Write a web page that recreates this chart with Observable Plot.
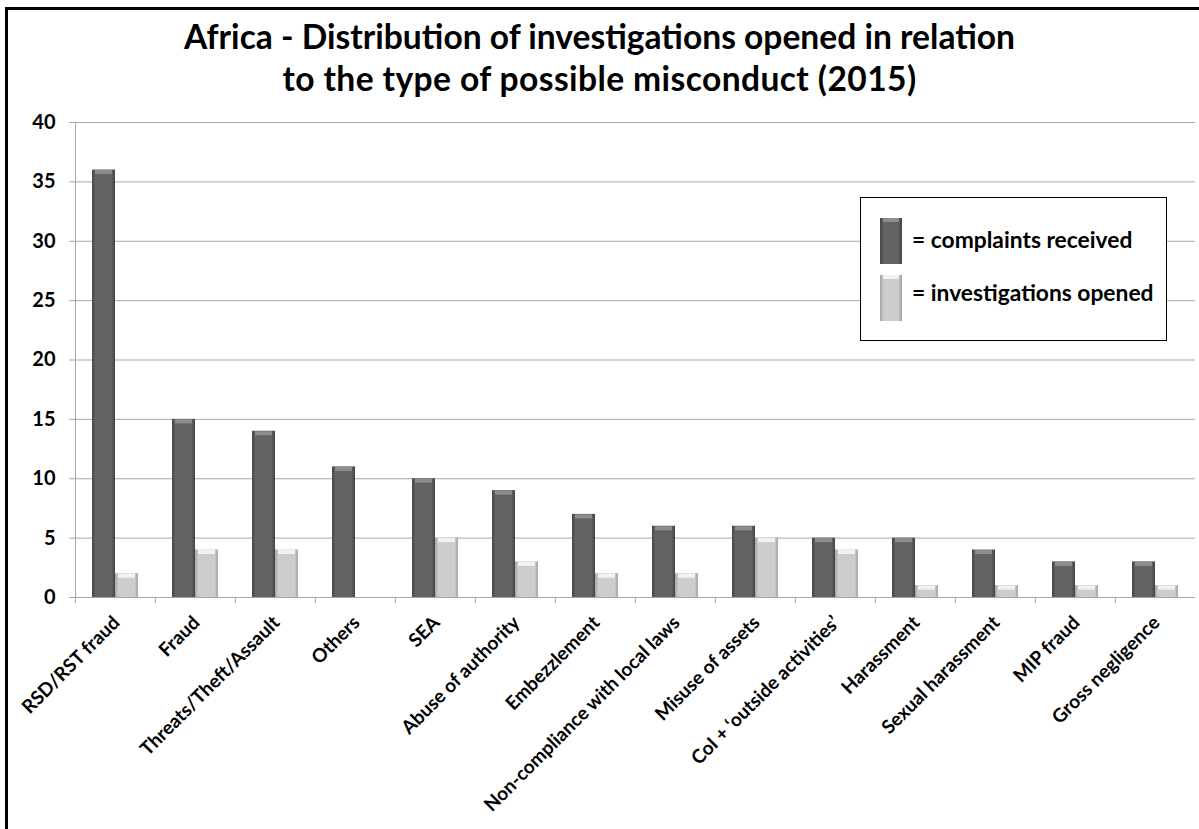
<!DOCTYPE html>
<html>
<head>
<meta charset="utf-8">
<script src="https://cdn.jsdelivr.net/npm/d3@7"></script>
<script src="https://cdn.jsdelivr.net/npm/@observablehq/plot@0.6"></script>
<style>
  body { margin: 0; background: #fff; font-family: Lato, "Open Sans", sans-serif; }
  #wrap { position: relative; width: 1199px; height: 829px; overflow: hidden; background: #fff; }
  #border { position: absolute; left: 5px; top: 7px; width: 1400px; height: 1000px; border-left: 3px solid #000; border-top: 3px solid #000; }
  #title { position: absolute; left: 0; top: 15px; width: 1199px; text-align: center; font-weight: 700; font-size: 33.6px; line-height: 42px; color: #000; }
  #title .l2 { letter-spacing: 0.4px; }
  #chart { position: absolute; left: 0; top: 100px; }
  #legend { position: absolute; left: 860px; top: 197px; width: 305px; height: 142px; border: 1.5px solid #000; background: #fff; }
  .sw { position: absolute; left: 19px; width: 22px; height: 46px; }
  .sw.dark { top: 20px; background: linear-gradient(to right, #454545 0%, #636363 18%, #636363 82%, #434343 100%); }
  .sw.light { top: 77px; background: linear-gradient(to right, #a4a4a4 0%, #cdcdcd 18%, #cdcdcd 82%, #a2a2a2 100%); }
  .sw::before { content: ""; position: absolute; left: 3px; right: 3px; top: 0; height: 4px; }
  .sw.dark::before { background: #8d8d8d; }
  .sw.light::before { background: #f2f2f2; }
  .lt { position: absolute; left: 51px; font-weight: 700; font-size: 22.8px; line-height: 26px; color: #000; white-space: nowrap; }
</style>
</head>
<body>
<div id="wrap">
  <div id="border"></div>
  <div id="title">Africa - Distribution of investigations opened in relation<br><span class="l2">to the type of possible misconduct (2015)</span></div>
  <div id="chart"></div>
  <div id="legend">
    <div class="sw dark"></div><div class="lt" style="top:28px">= complaints received</div>
    <div class="sw light"></div><div class="lt" style="top:81px">= investigations opened</div>
  </div>
</div>
<script>
const categories = [
  "RSD/RST fraud", "Fraud", "Threats/Theft/Assault", "Others", "SEA",
  "Abuse of authority", "Embezzlement", "Non-compliance with local laws",
  "Misuse of assets", "CoI + \u2018outside activities\u2019", "Harassment",
  "Sexual harassment", "MIP fraud", "Gross negligence"
];
const seriesNames = ["complaints received", "investigations opened"];
const complaints     = [36, 15, 14, 11, 10, 9, 7, 6, 6, 5, 5, 4, 3, 3];
const investigations = [ 2,  4,  4,  0,  5, 3, 2, 2, 5, 4, 1, 1, 1, 1];
const yTicks = [0, 5, 10, 15, 20, 25, 30, 35, 40];

const data = categories.flatMap((c, i) => [
  {category: c, series: seriesNames[0], value: complaints[i]},
  {category: c, series: seriesNames[1], value: investigations[i]}
]);

const gridColor = "#a8a8a8";

const plot = Plot.plot({
  width: 1199,
  height: 729,
  marginTop: 22,
  marginBottom: 232,
  marginLeft: 73,
  marginRight: 2,
  style: {fontFamily: "Lato, 'Open Sans', sans-serif", fontWeight: 700, color: "#000", background: "transparent", overflow: "visible"},
  fx: {domain: categories, padding: 0, label: null, axis: null},
  x: {domain: seriesNames, paddingInner: 0, paddingOuter: 0.71, axis: null},
  y: {domain: [0, 40], label: null, axis: null},
  marks: [
    Plot.gridY(yTicks, {stroke: gridColor, strokeOpacity: 1, strokeWidth: 1}),
    Plot.frame({anchor: "left", facetAnchor: "left", stroke: gridColor}),
    Plot.ruleY([0], {stroke: gridColor, strokeWidth: 1}),
    Plot.axisY(yTicks, {tickSize: 6, tickPadding: 14, fontSize: 20, stroke: gridColor, fill: "#000", label: null}),
    Plot.axisFx({anchor: "bottom", tickSize: 6, tickFormat: () => "", dx: -40.15, stroke: gridColor, label: null}),
    Plot.axisFx({anchor: "bottom", tickSize: 0, tickRotate: -45, tickPadding: 22, dx: 1, fontSize: 19, fill: "#000", label: null}),
    Plot.barY(data, {filter: d => d.series === seriesNames[0], fx: "category", x: "series", y: "value", fill: "url(#gDark)"}),
    Plot.barY(data, {filter: d => d.series === seriesNames[1], fx: "category", x: "series", y: "value", fill: "url(#gLight)"}),
    Plot.tickY(data, {filter: d => d.series === seriesNames[0] && d.value > 0, fx: "category", x: "series", y: "value", stroke: "#8d8d8d", strokeWidth: 4, dy: 2, insetLeft: 3, insetRight: 3}),
    Plot.tickY(data, {filter: d => d.series === seriesNames[1] && d.value > 0, fx: "category", x: "series", y: "value", stroke: "#f2f2f2", strokeWidth: 4, dy: 2, insetLeft: 3, insetRight: 3})
  ]
});

const defs = d3.select(plot).insert("defs", ":first-child");
function grad(id, stops) {
  const g = defs.append("linearGradient").attr("id", id).attr("x1", "0").attr("x2", "1").attr("y1", "0").attr("y2", "0");
  stops.forEach(([o, c]) => g.append("stop").attr("offset", o).attr("stop-color", c));
}
grad("gDark", [["0%", "#454545"], ["15%", "#636363"], ["85%", "#636363"], ["100%", "#434343"]]);
grad("gLight", [["0%", "#a4a4a4"], ["15%", "#cdcdcd"], ["85%", "#cdcdcd"], ["100%", "#a2a2a2"]]);

document.getElementById("chart").appendChild(plot);
</script>
</body>
</html>
